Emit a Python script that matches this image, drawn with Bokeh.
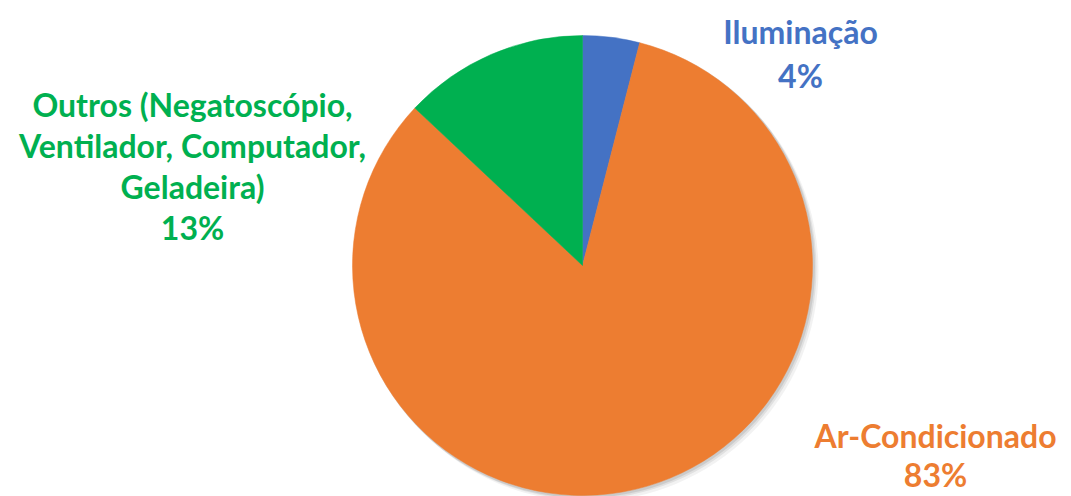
import numpy as np
from bokeh.plotting import figure
from bokeh.models import Range1d, ColumnDataSource
from bokeh.core.properties import value
from bokeh.embed import file_html
from bokeh.resources import INLINE

# Data
categories = ["Iluminação", "Ar-Condicionado", "Outros (Negatoscópio,\nVentilador, Computador,\nGeladeira)"]
shares = [4, 83, 13]
colors = ["#4472C4", "#ED7D31", "#00B050"]
pct_labels = ["4%", "83%", "13%"]

W, H = 1071, 496
cx, cy, R = 582, H - 265, 230

p = figure(width=W, height=H, output_backend="svg", toolbar_location=None,
           x_range=Range1d(0, W), y_range=Range1d(0, H),
           x_axis_location=None, y_axis_location=None, min_border=0)
p.grid.visible = False
p.outline_line_color = None
p.background_fill_color = "white"
p.border_fill_color = "white"

vals = np.array(shares, dtype=float)
frac = vals / vals.sum()
start_deg = 90 - np.concatenate([[0], np.cumsum(frac)[:-1]]) * 360
end_deg = start_deg - frac * 360
src = ColumnDataSource(dict(start=np.radians(start_deg), end=np.radians(end_deg), color=colors))

# soft shadow
for off, a in [(5, 0.05), (3, 0.07), (1.5, 0.09)]:
    p.circle(x=cx + off, y=cy - off, radius=R + 1, radius_units="screen",
             fill_color="black", fill_alpha=a, line_color=None)

p.wedge(x=cx, y=cy, radius=R, radius_units="screen", start_angle="start", end_angle="end",
        direction="clock", fill_color="color", line_color="color", line_width=0.5, source=src)

# label layout: (center x, first baseline y from top, line spacing)
layout = [(800, 31, 44), (935, 435, 39), (192, 104, 41)]
fs = "32px"
for cat, pct, col, (lx, ly, sp) in zip(categories, pct_labels, colors, layout):
    lines = cat.split("\n") + [pct]
    ys = [H - (ly + i * sp) for i in range(len(lines))]
    p.text(x=[lx] * len(lines), y=ys, text=lines, text_align="center", text_baseline="alphabetic",
           text_font=value("Lato"), text_font_style="bold", text_font_size=fs, text_color=col)

open("out.html", "w").write(file_html(p, INLINE))
